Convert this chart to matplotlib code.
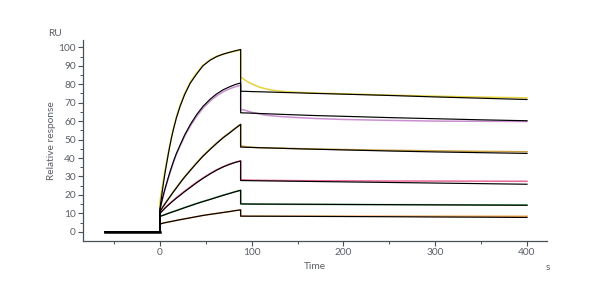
import matplotlib
matplotlib.use("Agg")
import matplotlib.pyplot as plt
from matplotlib.ticker import MultipleLocator

plt.rcParams['font.family'] = ['Lato', 'DejaVu Sans']

# Time grids (s)
t_base = [-60, 0]
t_assoc = [0, 1, 2, 3, 4, 5.5, 7, 9, 11, 13, 15, 18, 22, 27, 33, 40, 47, 55, 62, 69, 76, 82, 88]
t_diss = [88, 91, 95, 100, 108, 116, 126, 136, 150, 170, 200, 250, 300, 350, 400]

# Measured responses (RU), one per concentration
data_colors = ['#e6d23c', '#c98fd0', '#c8a040', '#e8689a', '#59b36b', '#f0a050']

data_assoc = [
    [16, 19.5, 22.5, 25.5, 28.5, 33, 37, 42.5, 47.5, 52.3, 56.5, 62.2, 68.5, 75, 81, 86, 90.3, 93.3, 95.1, 96.3, 97.2, 97.9, 98.5],
    [12, 14, 16, 18, 20, 22.8, 25.4, 28.8, 32, 35, 38, 42, 46.5, 51.8, 57.2, 62.5, 67, 71, 73.7, 75.9, 77.5, 78.6, 79.5],
    [11, 11.9, 12.7, 13.5, 14.2, 15.3, 16.4, 17.8, 19.2, 20.6, 22.0, 24.0, 26.7, 29.9, 33.4, 37.4, 41.2, 45.0, 48.2, 51.2, 53.8, 56.1, 58.3],
    [10, 10.6, 11.1, 11.6, 12.1, 12.9, 13.7, 14.6, 15.5, 16.4, 17.2, 18.5, 20.1, 22.1, 24.3, 26.9, 29.2, 31.7, 33.6, 35.3, 36.7, 37.7, 38.5],
    [8.4, 8.6, 8.8, 8.95, 9.1, 9.4, 9.7, 10.05, 10.4, 10.75, 11.1, 11.6, 12.3, 13.2, 14.2, 15.4, 16.5, 17.7, 18.8, 19.9, 20.9, 21.8, 22.6],
    [4.3, 4.4, 4.5, 4.65, 4.8, 4.95, 5.1, 5.3, 5.5, 5.7, 5.9, 6.2, 6.6, 7.05, 7.6, 8.25, 8.9, 9.5, 10.0, 10.5, 11.0, 11.5, 11.9],
]
data_diss = [
    [84, 82.8, 81.5, 80.2, 78.5, 77.4, 76.5, 76.0, 75.6, 75.2, 74.8, 74.1, 73.5, 73.0, 72.6],
    [66, 66.2, 65.5, 64.8, 63.9, 63.2, 62.7, 62.3, 61.9, 61.4, 60.9, 60.4, 60.0, 59.9, 59.8],
    [46.5, 46.4, 46.0, 45.8, 45.6, 45.5, 45.4, 45.3, 45.1, 44.9, 44.6, 44.2, 43.9, 43.6, 43.4],
    [28.2, 28.2, 28.1, 28.0, 27.95, 27.9, 27.85, 27.8, 27.75, 27.7, 27.65, 27.55, 27.5, 27.45, 27.4],
    [15.3, 15.2, 15.1, 15.05, 15.0, 14.98, 14.95, 14.92, 14.9, 14.86, 14.8, 14.75, 14.7, 14.65, 14.6],
    [8.6, 8.55, 8.5, 8.5, 8.5, 8.5, 8.5, 8.5, 8.5, 8.5, 8.5, 8.48, 8.47, 8.46, 8.45],
]

# Fitted model curves (black)
fit_assoc = [
    [12, 16, 19.7, 23.3, 26.8, 31.6, 36, 41.7, 47, 51.8, 56, 61.8, 68, 74.4, 80.5, 85.5, 90, 93.1, 95, 96.3, 97.3, 98.1, 98.8],
    [12, 14.2, 16.4, 18.4, 20.4, 23.2, 25.8, 29.2, 32.5, 35.5, 38.5, 42.5, 47, 52.5, 58, 63.5, 68, 72, 74.8, 77, 78.6, 79.8, 80.7],
    [11, 11.8, 12.5, 13.3, 14, 15.1, 16.2, 17.6, 19, 20.4, 21.8, 23.8, 26.5, 29.7, 33.2, 37.2, 41, 44.8, 48, 51, 53.6, 56, 58.2],
    [10, 10.5, 11, 11.5, 12, 12.8, 13.5, 14.4, 15.3, 16.2, 17, 18.3, 19.8, 21.8, 24, 26.6, 29, 31.5, 33.5, 35.2, 36.6, 37.6, 38.4],
    [8.3, 8.5, 8.7, 8.85, 9.0, 9.3, 9.6, 9.95, 10.3, 10.65, 11.0, 11.5, 12.2, 13.1, 14.1, 15.3, 16.4, 17.6, 18.7, 19.8, 20.8, 21.7, 22.5],
    [4.3, 4.4, 4.5, 4.65, 4.8, 4.95, 5.1, 5.3, 5.5, 5.7, 5.9, 6.2, 6.6, 7.05, 7.6, 8.25, 8.9, 9.5, 10.0, 10.5, 11.0, 11.5, 11.9],
]
fit_diss = [
    [76.2, 76.15, 76.1, 76.0, 75.9, 75.8, 75.65, 75.5, 75.3, 75.0, 74.6, 73.9, 73.1, 72.4, 71.7],
    [64.5, 64.45, 64.4, 64.3, 64.15, 64.0, 63.8, 63.6, 63.35, 63.0, 62.6, 61.9, 61.3, 60.7, 60.2],
    [45.9, 45.85, 45.8, 45.75, 45.6, 45.5, 45.35, 45.2, 45.0, 44.75, 44.4, 43.8, 43.3, 42.9, 42.5],
    [27.8, 27.78, 27.75, 27.72, 27.67, 27.62, 27.56, 27.49, 27.4, 27.27, 27.08, 26.76, 26.44, 26.12, 25.8],
    [15.1, 15.1, 15.09, 15.07, 15.05, 15.04, 15.01, 14.99, 14.96, 14.92, 14.85, 14.74, 14.62, 14.51, 14.4],
    [8.5, 8.5, 8.49, 8.48, 8.47, 8.46, 8.44, 8.42, 8.4, 8.36, 8.3, 8.2, 8.05, 7.95, 7.8],
]
base_vals = [0, 0]

x_ticks = [0, 100, 200, 300, 400]
y_ticks = [0, 10, 20, 30, 40, 50, 60, 70, 80, 90, 100]

txt = '#5a5f66'
spine = '#4a5058'
fs = 7.3

fig = plt.figure(figsize=(6, 3), dpi=100)
ax = fig.add_axes([0.138, 0.197, 0.774, 0.67])

t_all = t_base + t_assoc + t_diss
for c, da, dd in zip(data_colors, data_assoc, data_diss):
    ax.plot(t_all, base_vals + da + dd, color=c, lw=1.1, zorder=2)
for fa, fd in zip(fit_assoc, fit_diss):
    ax.plot(t_all, base_vals + fa + fd, color='black', lw=0.85, zorder=3)
ax.plot(t_base, base_vals, color='black', lw=1.8, zorder=4)

ax.set_xlim(-84, 422)
ax.set_ylim(-4.9, 104)
ax.set_xticks(x_ticks)
ax.set_yticks(y_ticks)
ax.xaxis.set_minor_locator(MultipleLocator(50))
ax.yaxis.set_minor_locator(MultipleLocator(5))

for s in ['top', 'right']:
    ax.spines[s].set_visible(False)
for s in ['left', 'bottom']:
    ax.spines[s].set_color(spine)
    ax.spines[s].set_linewidth(0.9)

ax.tick_params(which='major', direction='out', length=3.5, width=0.8, color=spine,
               labelsize=fs, labelcolor=txt, pad=1.5)
ax.tick_params(which='minor', direction='out', length=2.2, width=0.7, color=spine)

ax.set_xlabel('Time', fontsize=fs, color=txt)
ax.set_ylabel('Relative response', fontsize=fs, color=txt)
ax.xaxis.set_label_coords(0.5, -0.105)
ax.yaxis.set_label_coords(-0.058, 0.5)
fig.text(0.092, 0.888, 'RU', fontsize=fs, color=txt, ha='center', va='center')
fig.text(0.913, 0.108, 's', fontsize=fs, color=txt, ha='center', va='center')

fig.savefig('out.png', dpi=100)
